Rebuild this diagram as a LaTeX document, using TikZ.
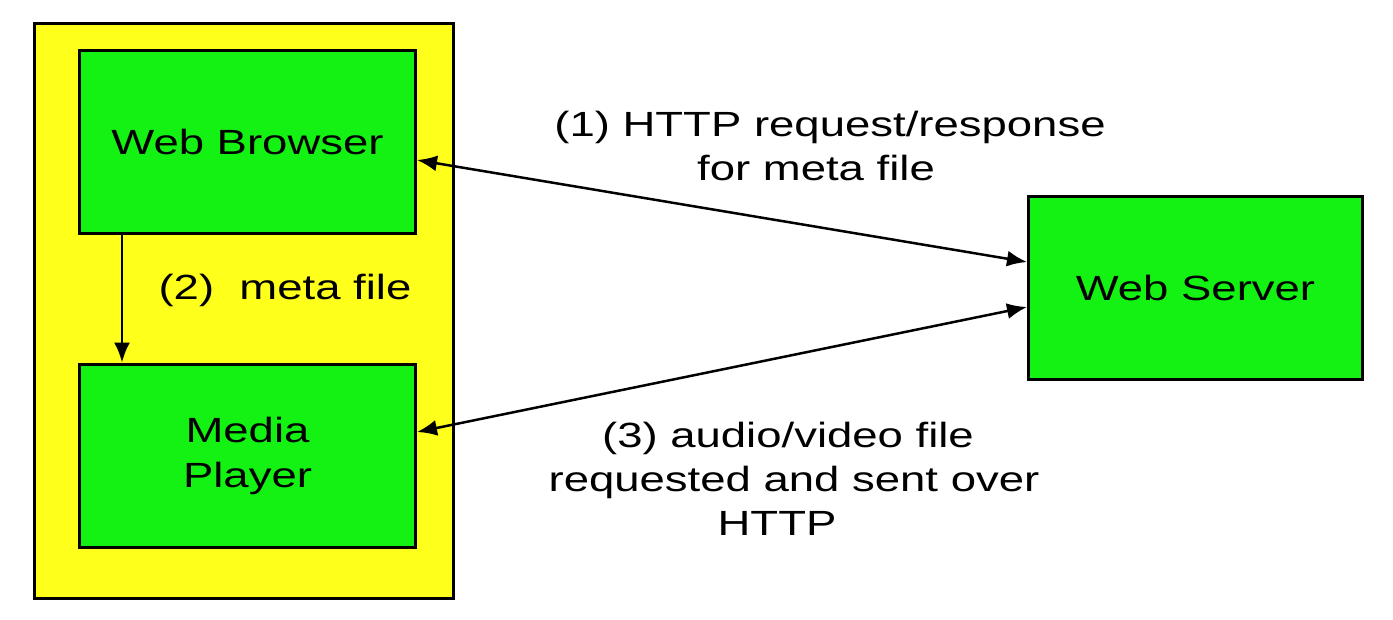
\documentclass[tikz,border=0pt]{standalone}
\usepackage{fontspec}
\setmainfont{Liberation Sans}[FakeStretch=1.3]
\usetikzlibrary{arrows.meta,calc}
\definecolor{clientyellow}{RGB}{255,255,28}
\definecolor{boxgreen}{RGB}{20,242,20}
\tikzset{
  greenbox/.style={draw=black, line width=3pt, fill=boxgreen, align=center,
    inner sep=0pt, font=\fontsize{35}{45}\selectfont},
  lbl/.style={align=center, inner sep=0pt, font=\fontsize{35}{44}\selectfont},
  conn/.style={line width=2.5pt, draw=black}
}
\begin{document}
\begin{tikzpicture}[x=1pt,y=-1pt]
\useasboundingbox (0,0) rectangle (1393,619);
\fill[white] (0,0) rectangle (1393,619);
% client container
\node[draw=black, line width=3pt, fill=clientyellow, minimum width=419pt, minimum height=575pt, inner sep=0pt] (client) at (244,311) {};
% boxes
\node[greenbox, minimum width=336pt, minimum height=183pt] (wb) at (247.5,141.5) {Web Browser};
\node[greenbox, minimum width=336pt, minimum height=183pt] (mp) at (247.5,455.5) {Media\\Player};
\node[greenbox, minimum width=334pt, minimum height=183pt] (ws) at (1195.5,288) {Web Server};
% labels
\node[lbl] (l1) at (830,146) {(1) HTTP request/response\\for meta file\hspace*{28pt}};
\node[lbl] (l2) at (285,290) {(2)\ \ meta file};
\node[lbl] (l3) at (794,479) {(3) audio/video file\hspace*{12pt}\\requested and sent over\\HTTP\hspace*{34pt}};
% connectors
\draw[conn, {Latex[length=20pt,width=16pt]}-{Latex[length=20pt,width=16pt]}] ($(wb.east)+(0,18.5)$) -- ($(ws.west)+(0,-26)$);
\draw[conn, {Latex[length=20pt,width=16pt]}-{Latex[length=20pt,width=16pt]}] ($(mp.east)+(0,-23.5)$) -- ($(ws.west)+(0,19)$);
\draw[conn, -{Latex[length=20pt,width=16pt]}] ($(wb.south west)+(44,0)$) -- ($(mp.north west)+(44,0)$);
\end{tikzpicture}
\end{document}
